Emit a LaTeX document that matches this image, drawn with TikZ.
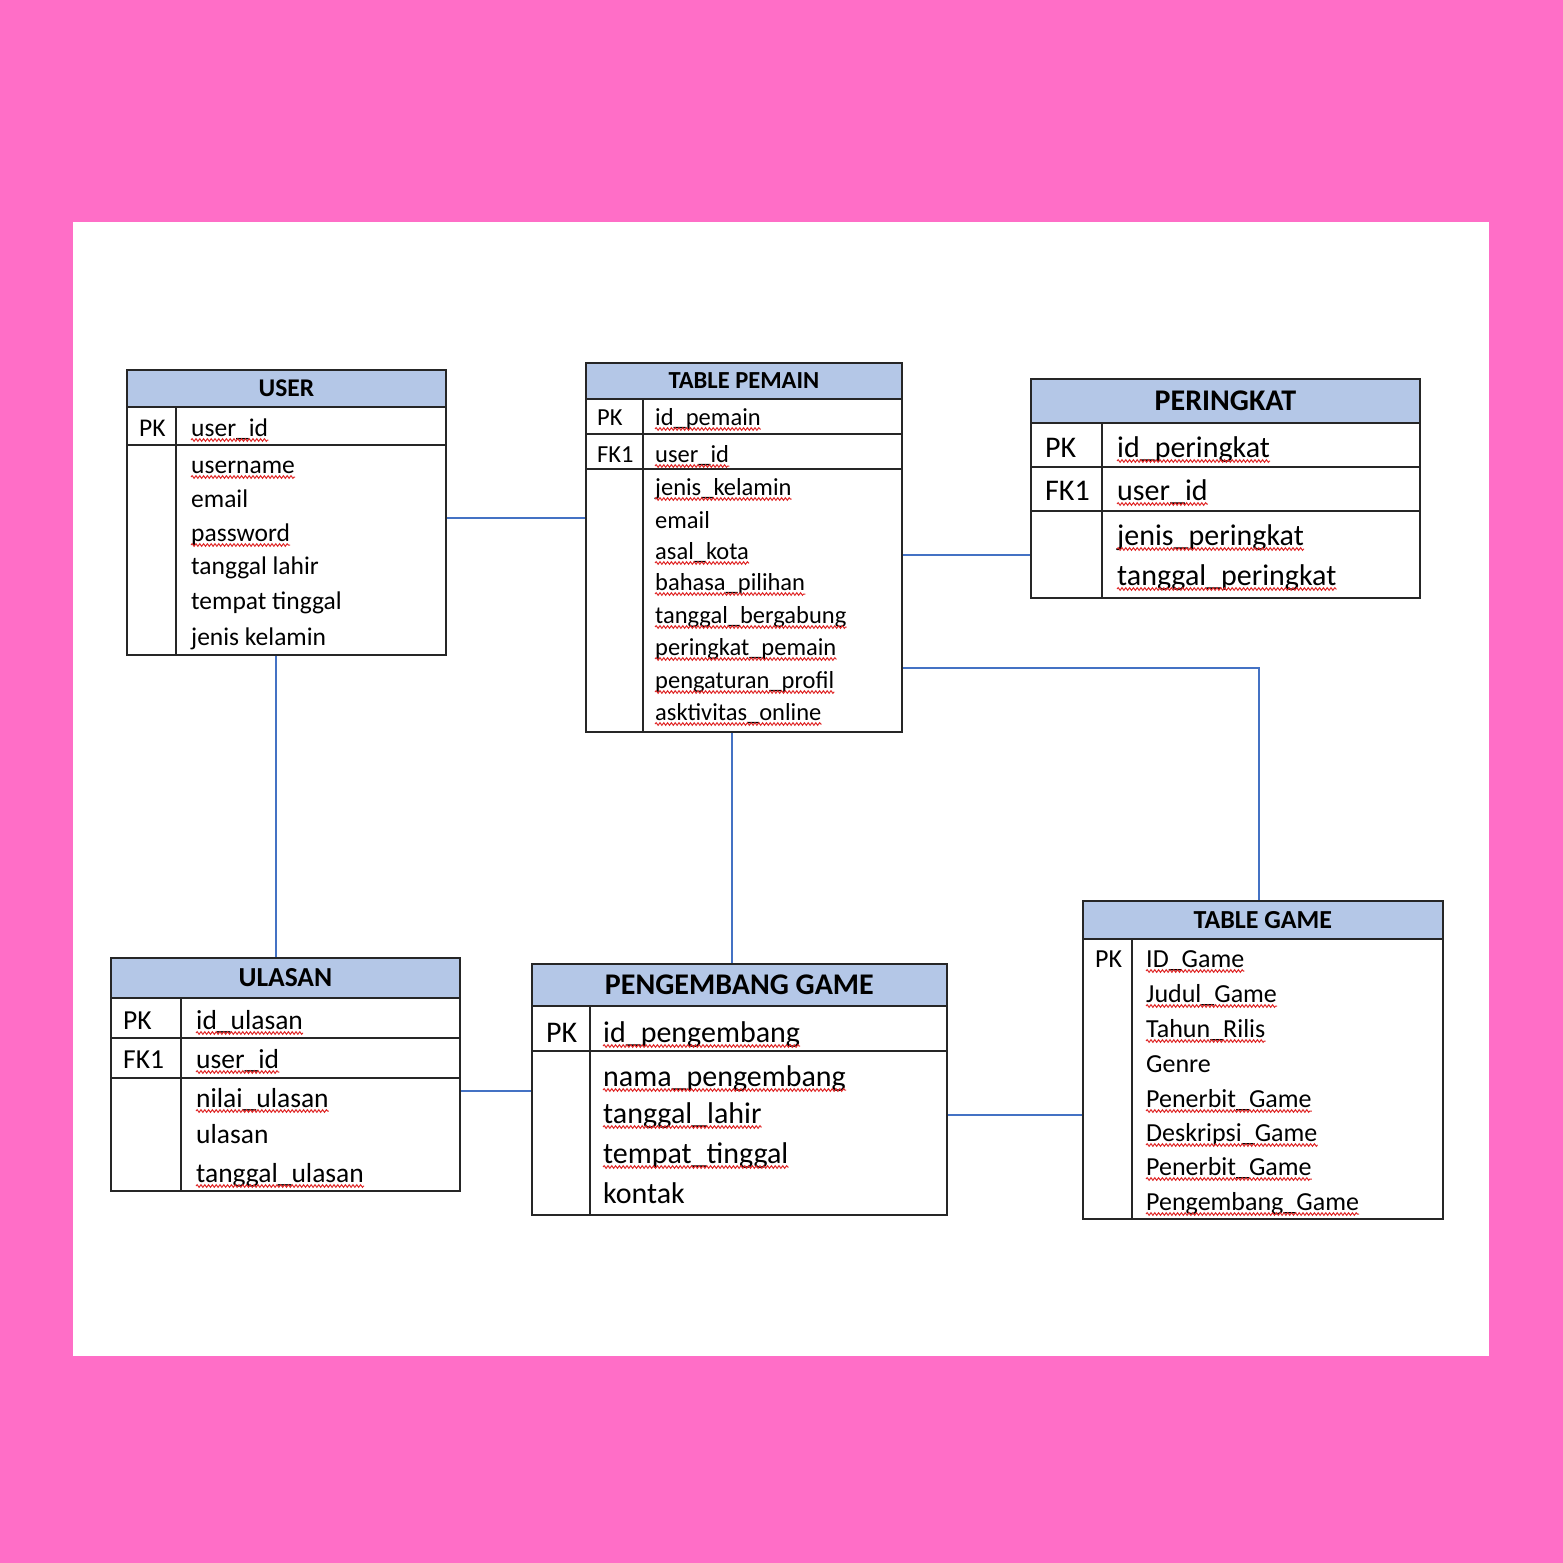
\documentclass[tikz,border=0pt]{standalone}
\usepackage{fontspec}
\setmainfont{Carlito}
\usetikzlibrary{decorations.pathmorphing}

\definecolor{bgpink}{HTML}{FF6EC7}
\definecolor{hdrblue}{HTML}{B4C7E7}
\definecolor{linkblue}{HTML}{4472C4}
\definecolor{wavered}{HTML}{E02828}

\tikzset{
  tbl/.style={draw=black!85, line width=1.8pt, anchor=north west, inner sep=0},
  hdr/.style={draw=black!85, line width=1.8pt, fill=hdrblue, anchor=north west, inner sep=0, text depth=-5.5pt, execute at begin node=\bfseries},
  grid/.style={draw=black!85, line width=1.8pt},
  fld/.style={anchor=base west, inner sep=0},
  link/.style={draw=linkblue, line width=1.8pt},
  squig/.style={draw=wavered, line width=1pt, decorate, decoration={snake, amplitude=1.3pt, segment length=3.8pt}}
}

\begin{document}
\begin{tikzpicture}[x=1pt, y=-1pt]
\fill [bgpink] (0,0) rectangle (1563,1563);
\fill [white] (73,222) rectangle (1489,1356);

\begin{scope}[font=\fontsize{25.5}{30}\selectfont]
\node (user) at (126,369) [tbl, minimum width=319, minimum height=285]{};
\node (user-h) at (126,369) [hdr, minimum width=319, minimum height=37]{USER};
\draw [grid] (126,445) -- (445,445);
\draw [grid] (176,406) -- (176,654);
\node (user-k) at (139,436) [fld]{PK};
\node (u1) at (191,436) [fld]{user\_id};
\node (u2) at (191,473) [fld]{username};
\node (u3) at (191,507) [fld]{email};
\node (u4) at (191,541) [fld]{password};
\node (u5) at (191,574) [fld]{tanggal lahir};
\node (u6) at (191,609) [fld]{tempat tinggal};
\node (u7) at (191,645) [fld]{jenis kelamin};
\end{scope}

\begin{scope}[font=\fontsize{24.5}{29}\selectfont]
\node (pemain) at (585,362) [tbl, minimum width=316, minimum height=369]{};
\node (pemain-h) at (585,362) [hdr, minimum width=316, minimum height=36]{TABLE PEMAIN};
\draw [grid] (585,434) -- (901,434);
\draw [grid] (585,469) -- (901,469);
\draw [grid] (643,398) -- (643,731);
\node (pemain-k) at (597,425) [fld]{PK};
\node (pemain-fk) at (597,462) [fld]{FK1};
\node (p1) at (655,425) [fld]{id\_pemain};
\node (p2) at (655,462) [fld]{user\_id};
\node (p3) at (655,495) [fld]{jenis\_kelamin};
\node (p4) at (655,528) [fld]{email};
\node (p5) at (655,559) [fld]{asal\_kota};
\node (p6) at (655,590) [fld]{bahasa\_pilihan};
\node (p7) at (655,623) [fld]{tanggal\_bergabung};
\node (p8) at (655,655) [fld]{peringkat\_pemain};
\node (p9) at (655,688) [fld]{pengaturan\_profil};
\node (p10) at (655,720) [fld]{asktivitas\_online};
\end{scope}

\begin{scope}[font=\fontsize{30}{36}\selectfont]
\node (peringkat) at (1030,378) [tbl, minimum width=389, minimum height=219]{};
\node (peringkat-h) at (1030,378) [hdr, minimum width=389, minimum height=44]{PERINGKAT};
\draw [grid] (1030,467) -- (1419,467);
\draw [grid] (1030,511) -- (1419,511);
\draw [grid] (1102,422) -- (1102,597);
\node (peringkat-k) at (1045,457) [fld]{PK};
\node (peringkat-fk) at (1045,500) [fld]{FK1};
\node (r1) at (1117,457) [fld]{id\_peringkat};
\node (r2) at (1117,500) [fld]{user\_id};
\node (r3) at (1117,545) [fld]{jenis\_peringkat};
\node (r4) at (1117,585) [fld]{tanggal\_peringkat};
\end{scope}

\begin{scope}[font=\fontsize{27.5}{33}\selectfont]
\node (ulasan) at (110,957) [tbl, minimum width=349, minimum height=233]{};
\node (ulasan-h) at (110,957) [hdr, minimum width=349, minimum height=40]{ULASAN};
\draw [grid] (110,1038) -- (459,1038);
\draw [grid] (110,1078) -- (459,1078);
\draw [grid] (181,997) -- (181,1190);
\node (ulasan-k) at (123,1029) [fld]{PK};
\node (ulasan-fk) at (123,1068) [fld]{FK1};
\node (l1) at (196,1029) [fld]{id\_ulasan};
\node (l2) at (196,1068) [fld]{user\_id};
\node (l3) at (196,1107) [fld]{nilai\_ulasan};
\node (l4) at (196,1143) [fld]{ulasan};
\node (l5) at (196,1182) [fld]{tanggal\_ulasan};
\end{scope}

\begin{scope}[font=\fontsize{30}{36}\selectfont]
\node (pengembang) at (531,963) [tbl, minimum width=415, minimum height=251]{};
\node (pengembang-h) at (531,963) [hdr, minimum width=415, minimum height=42]{PENGEMBANG GAME};
\draw [grid] (531,1051) -- (946,1051);
\draw [grid] (590,1005) -- (590,1214);
\node (pengembang-k) at (546,1042) [fld]{PK};
\node (d1) at (603,1042) [fld]{id\_pengembang};
\node (d2) at (603,1086) [fld]{nama\_pengembang};
\node (d3) at (603,1123) [fld]{tanggal\_lahir};
\node (d4) at (603,1163) [fld]{tempat\_tinggal};
\node (d5) at (603,1203) [fld]{kontak};
\end{scope}

\begin{scope}[font=\fontsize{26}{31}\selectfont]
\node (game) at (1082,900) [tbl, minimum width=360, minimum height=318]{};
\node (game-h) at (1082,900) [hdr, minimum width=360, minimum height=38]{TABLE GAME};
\draw [grid] (1132,938) -- (1132,1218);
\node (game-k) at (1095,967) [fld]{PK};
\node (g1) at (1146,967) [fld]{ID\_Game};
\node (g2) at (1146,1002) [fld]{Judul\_Game};
\node (g3) at (1146,1037) [fld]{Tahun\_Rilis};
\node (g4) at (1146,1072) [fld]{Genre};
\node (g5) at (1146,1107) [fld]{Penerbit\_Game};
\node (g6) at (1146,1141) [fld]{Deskripsi\_Game};
\node (g7) at (1146,1175) [fld]{Penerbit\_Game};
\node (g8) at (1146,1210) [fld]{Pengembang\_Game};
\end{scope}

% spell check marks
\foreach \n in {u1,u2,u4,p1,p2,p3,p5,p6,p7,p8,p9,p10,r1,r2,r3,r4,l1,l2,l3,l5,d1,d2,d3,d4,g1,g2,g3,g5,g6,g7,g8}
  \draw [squig] ([yshift=-4pt]\n.base west) -- ([yshift=-4pt]\n.base east);

\coordinate (y1) at (0,518);
\coordinate (x2) at (276,0);
\coordinate (y3) at (0,555);
\coordinate (b4) at (1259,668);
\coordinate (x5) at (732,0);
\coordinate (y6) at (0,1091);
\coordinate (y7) at (0,1115);

\draw [link] (user.east |- y1) -- (pemain.west |- y1);
\draw [link] (user.south -| x2) -- (ulasan.north -| x2);
\draw [link] (pemain.east |- y3) -- (peringkat.west |- y3);
\draw [link] (pemain.east |- b4) -| (game.north -| b4);
\draw [link] (pemain.south -| x5) -- (pengembang.north -| x5);
\draw [link] (ulasan.east |- y6) -- (pengembang.west |- y6);
\draw [link] (pengembang.east |- y7) -- (game.west |- y7);

\end{tikzpicture}
\end{document}
